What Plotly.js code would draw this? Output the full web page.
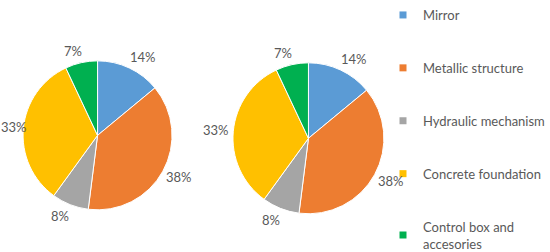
<!DOCTYPE html>
<html><head><meta charset="utf-8">
<script src="https://cdn.plot.ly/plotly-3.0.1.min.js"></script>
<style>html,body{margin:0;padding:0;background:#fff}#chart{width:550px;height:252px}</style>
</head><body><div id="chart"></div>
<script>
const categories = ["Mirror", "Metallic structure", "Hydraulic mechanism", "Concrete foundation", "Control box and<br>accesories"];
const pie1Values = [14, 38, 8, 33, 7];
const pie2Values = [14, 38, 8, 33, 7];
const colors = ["#5B9BD5", "#ED7D31", "#A5A5A5", "#FFC000", "#00B050"];

const W = 550, H = 252;
const font = "Lato, 'Open Sans', sans-serif";
const txt = "#595959";
const labelSize = 13;

// pie geometry (layout, in pixels): center x, center y, radius
const pies = [
  {values: pie1Values, cx: 99, cy: 133, r: 76},
  {values: pie2Values, cx: 313, cy: 136, r: 77}
];

const traces = [];
const annotations = [];
pies.forEach(p => {
  traces.push({
    type: "pie", values: p.values, labels: categories, sort: false,
    direction: "clockwise", rotation: 0,
    marker: {colors: colors, line: {color: "#ffffff", width: 1}},
    textinfo: "none",
    showlegend: false, hoverinfo: "label+percent",
    domain: {x: [(p.cx - p.r) / W, (p.cx + p.r) / W], y: [1 - (p.cy + p.r) / H, 1 - (p.cy - p.r) / H]}
  });
  // percent labels placed just outside each slice, at its mid-angle
  const total = p.values.reduce((a, b) => a + b, 0);
  let cum = 0;
  p.values.forEach(v => {
    const mid = (cum + v / 2) / total * 2 * Math.PI;
    cum += v;
    const ux = Math.sin(mid), uy = -Math.cos(mid);
    const text = Math.round(v / total * 100) + "%";
    const w = text.length * 7.5, h = 13, d = p.r + 6;
    let x = p.cx + d * ux + (w / 2) * Math.sign(ux);
    const y = p.cy + d * uy + (h / 2) * uy;
    if (x - w / 2 < 3) x = 3 + w / 2;
    if (x + w / 2 > W - 3) x = W - 3 - w / 2;
    annotations.push({
      xref: "paper", yref: "paper", x: x / W, y: 1 - y / H,
      xanchor: "center", yanchor: "middle", showarrow: false, text: text,
      font: {family: font, size: labelSize, color: txt}
    });
  });
});

categories.forEach((c, i) => {
  traces.push({
    type: "scatter", mode: "markers", x: [null], y: [null], name: c,
    legendgroup: "g" + i,
    marker: {symbol: "square", size: 7, color: colors[i]},
    hoverinfo: "skip"
  });
});

const layout = {
  width: W, height: H,
  margin: {l: 0, r: 0, t: 0, b: 0},
  paper_bgcolor: "#fff", plot_bgcolor: "#fff",
  xaxis: {visible: false}, yaxis: {visible: false},
  showlegend: true,
  annotations: annotations,
  legend: {
    x: 389 / W, y: 1.02, xanchor: "left", yanchor: "top",
    font: {family: font, size: 13, color: txt},
    tracegroupgap: 33, itemwidth: 30, bgcolor: "rgba(0,0,0,0)",
    maxheight: 400
  }
};
Plotly.newPlot("chart", traces, layout, {displayModeBar: false, staticPlot: true});
</script></body></html>
